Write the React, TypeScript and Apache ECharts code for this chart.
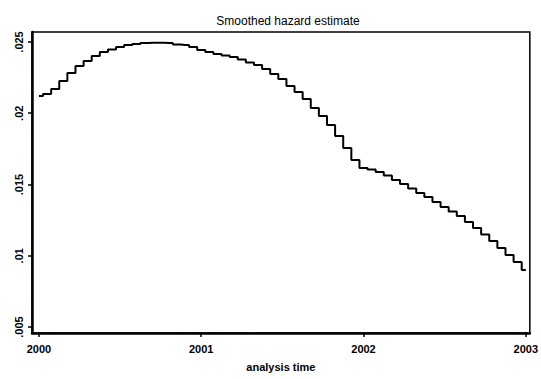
import React, { useEffect, useRef } from "react";
import * as echarts from "echarts";

const title = "Smoothed hazard estimate";
const xAxisTitle = "analysis time";
const xTicks = [2000, 2001, 2002, 2003];
const yTicks = [0.005, 0.01, 0.015, 0.02, 0.025];

const times = Array.from({ length: 61 }, (_, k) => 2000 + k * 0.05);
const hazard = [
  0.02121, 0.02135, 0.0217, 0.02226, 0.02282, 0.02332, 0.02367, 0.02402, 0.0243, 0.02447,
  0.02465, 0.02479, 0.02486, 0.02493, 0.02495, 0.02495, 0.02493, 0.02482, 0.02479, 0.02465,
  0.02444, 0.0243, 0.02416, 0.02405, 0.02395, 0.02377, 0.02356, 0.02339, 0.02311, 0.02275,
  0.0224, 0.02191, 0.02149, 0.021, 0.02037, 0.01981, 0.01918, 0.0184, 0.01756, 0.01672,
  0.01616, 0.01605, 0.01588, 0.01563, 0.01532, 0.01504, 0.01472, 0.0144, 0.01412, 0.01377,
  0.01342, 0.01311, 0.01279, 0.01237, 0.01195, 0.01149, 0.01104, 0.01054, 0.01005, 0.00956,
  0.009,
];

export default function App() {
  const ref = useRef<HTMLDivElement>(null);
  useEffect(() => {
    document.body.style.margin = "0";
    const chart = echarts.init(ref.current!, null, { renderer: "svg" });
    const font = "Liberation Sans, Arial, sans-serif";
    chart.setOption({
      animation: false,
      backgroundColor: "#fff",
      title: {
        text: title,
        left: 283,
        textAlign: "center",
        top: 10,
        textStyle: { fontSize: 12, fontWeight: "normal", color: "#000", fontFamily: font },
      },
      grid: {
        left: 32,
        top: 32,
        right: 6,
        bottom: 46,
        show: true,
        borderColor: "#000",
        borderWidth: 1.5,
        backgroundColor: "#fff",
      },
      xAxis: {
        type: "value",
        min: 1999.957,
        max: 2003.025,
        name: xAxisTitle,
        nameLocation: "middle",
        nameGap: 28,
        nameTextStyle: { fontSize: 11, color: "#000", fontFamily: font, fontWeight: "bold" },
        axisLine: { show: true, onZero: false, lineStyle: { color: "#000", width: 2.5 } },
        axisTick: { show: true, length: 4, customValues: xTicks, lineStyle: { color: "#000", width: 1.5 } },
        axisLabel: {
          customValues: xTicks,
          margin: 10,
          fontSize: 11,
          fontWeight: "bold",
          color: "#000",
          fontFamily: font,
          formatter: (v: number) => String(Math.round(v)),
        },
        splitLine: { show: false },
      },
      yAxis: {
        type: "value",
        min: 0.00458,
        max: 0.0257,
        axisLine: { show: true, onZero: false, lineStyle: { color: "#000", width: 2.5 } },
        axisTick: { show: true, length: 4, customValues: yTicks, lineStyle: { color: "#000", width: 1.5 } },
        axisLabel: {
          customValues: yTicks,
          rotate: 90,
          margin: 8,
          fontSize: 11,
          fontWeight: "bold",
          color: "#000",
          fontFamily: font,
          formatter: (v: number) => {
            const s = String(parseFloat(v.toFixed(4)));
            return s.startsWith("0") ? s.slice(1) : s;
          },
        },
        splitLine: { show: false },
      },
      series: [
        {
          type: "line",
          step: "middle",
          showSymbol: false,
          data: times.map((t, i) => [t, hazard[i]]),
          lineStyle: { color: "#000", width: 2 },
        },
      ],
    });
    return () => chart.dispose();
  }, []);
  return <div ref={ref} style={{ width: 541, height: 379 }} />;
}
